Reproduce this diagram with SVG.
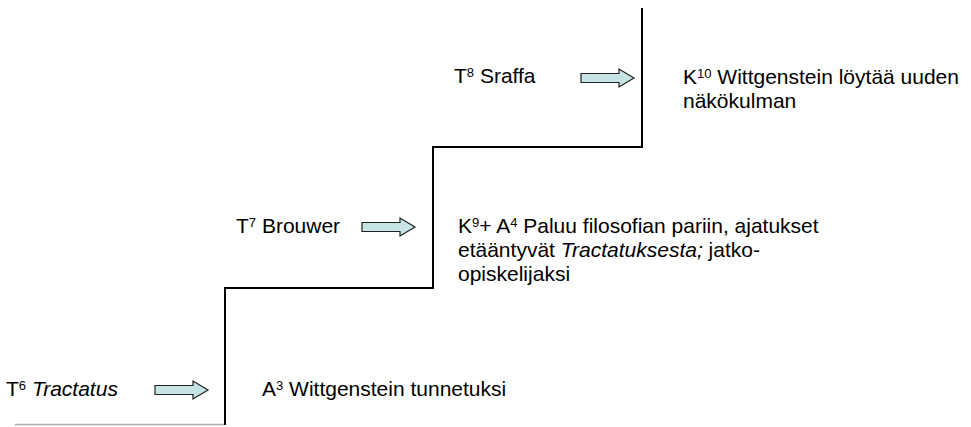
<svg xmlns="http://www.w3.org/2000/svg" width="971" height="427" viewBox="0 0 971 427">
<style>
text{font-family:"Liberation Sans",Arial,sans-serif;font-size:21px;fill:#000}
.sup{font-size:13px}
.arrow{fill:#c6e4e4;stroke:#222;stroke-width:1.2}
.step{fill:none;stroke:#000;stroke-width:2}
</style>
<defs>
<path id="arr" class="arrow" d="M0,-4.5 H38 V-9 L53,0 L38,9 V4.5 H0 Z"/>
</defs>
<g id="connectors">
<line x1="15" y1="424.5" x2="225" y2="424.5" stroke="#aaa" stroke-width="1.5"/>
<path class="step" d="M225,425 V288 H433 V147 H642 V8"/>
<use href="#arr" x="155" y="390"/>
<use href="#arr" x="362" y="227"/>
<use href="#arr" x="581" y="78"/>
</g>
<g id="t6"><text x="6" y="396">T<tspan class="sup" dy="-6">6</tspan><tspan dy="6"> </tspan><tspan font-style="italic">Tractatus</tspan></text></g>
<g id="a3"><text x="262" y="396">A<tspan class="sup" dy="-6">3</tspan><tspan dy="6"> Wittgenstein tunnetuksi</tspan></text></g>
<g id="t7"><text x="236" y="233">T<tspan class="sup" dy="-6">7</tspan><tspan dy="6"> Brouwer</tspan></text></g>
<g id="k9"><text x="458" y="233">K<tspan class="sup" dy="-6">9</tspan><tspan dy="6">+ A</tspan><tspan class="sup" dy="-6">4</tspan><tspan dy="6"> Paluu filosofian pariin, ajatukset</tspan></text>
<text x="458" y="257">etääntyvät <tspan font-style="italic">Tractatuksesta;</tspan> jatko-</text>
<text x="458" y="281">opiskelijaksi</text></g>
<g id="t8"><text x="454" y="83">T<tspan class="sup" dy="-6">8</tspan><tspan dy="6"> Sraffa</tspan></text></g>
<g id="k10"><text x="683" y="84">K<tspan class="sup" dy="-6">10</tspan><tspan dy="6"> Wittgenstein löytää uuden</tspan></text>
<text x="683" y="108">näkökulman</text></g>
</svg>
